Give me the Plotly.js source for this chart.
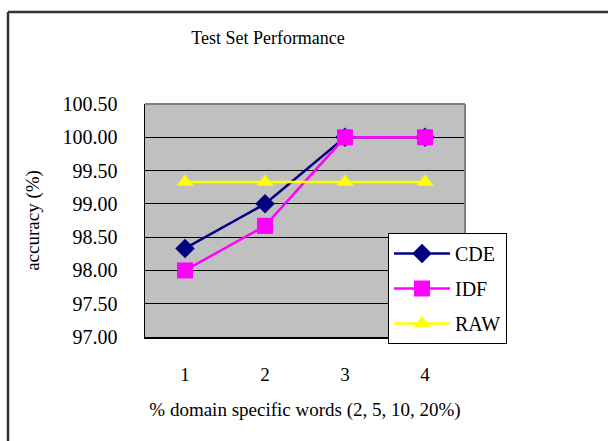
<!DOCTYPE html>
<html>
<head>
<meta charset="utf-8">
<script src="https://cdn.plot.ly/plotly-3.0.1.min.js"></script>
<style>html,body{margin:0;padding:0;background:#fff;}#chart{width:608px;height:441px;}</style>
</head>
<body>
<div id="chart"></div>
<script>
var categories = [1, 2, 3, 4];
var cde = [98.33, 99.00, 100.00, 100.00];
var idf = [98.00, 98.67, 100.00, 100.00];
var raw = [99.33, 99.33, 99.33, 99.33];
var yTicks = [97.0, 97.5, 98.0, 98.5, 99.0, 99.5, 100.0, 100.5];

var fontFam = '"Liberation Serif", "DejaVu Serif", serif';

var traces = [
  {x: categories, y: cde, name: 'CDE', type: 'scatter', mode: 'lines+markers', legendgroup: 'a',
   line: {color: '#000080', width: 2.5}, marker: {symbol: 'diamond', size: 15, color: '#000080'}},
  {x: categories, y: idf, name: 'IDF', type: 'scatter', mode: 'lines+markers', legendgroup: 'b',
   line: {color: '#FF00FF', width: 2.5}, marker: {symbol: 'square', size: 16, color: '#FF00FF'}},
  {x: categories, y: raw, name: 'RAW', type: 'scatter', mode: 'lines+markers', legendgroup: 'c',
   line: {color: '#FFFF00', width: 2.5}, marker: {symbol: 'triangle-up', size: 15, color: '#FFFF00'}}
];

var layout = {
  width: 608, height: 441,
  margin: {l: 145, r: 143, t: 104, b: 104, pad: 0},
  paper_bgcolor: '#FFFFFF',
  plot_bgcolor: '#C0C0C0',
  font: {family: fontFam, color: '#000000', size: 18},
  title: {text: 'Test Set Performance', x: 268/608, xref: 'container', xanchor: 'center',
          y: 1 - 38/441, yref: 'container', yanchor: 'middle',
          font: {family: fontFam, size: 18, color: '#000'}},
  xaxis: {
    range: [0.5, 4.5], tickvals: categories, ticktext: categories.map(String),
    showgrid: false, zeroline: false, showline: true, linecolor: '#000', linewidth: 1.5,
    ticks: '', ticklabelstandoff: 20,
    tickfont: {family: fontFam, size: 19},
    title: {text: '% domain specific words (2, 5, 10, 20%)', standoff: 18,
            font: {family: fontFam, size: 19}},
    mirror: false, fixedrange: true
  },
  yaxis: {
    range: [97, 100.5], tickvals: yTicks, tickformat: '.2f',
    showgrid: true, gridcolor: '#000000', gridwidth: 1,
    zeroline: false, showline: true, linecolor: '#000', linewidth: 1.5,
    ticks: '', ticklabelstandoff: 22,
    tickfont: {family: fontFam, size: 20},
    title: {text: 'accuracy (%)', standoff: 18, font: {family: fontFam, size: 19}},
    fixedrange: true
  },
  legend: {
    x: (388-145)/320, xanchor: 'left', y: (337-233)/233, yanchor: 'top',
    bgcolor: '#FFFFFF', bordercolor: '#000000', borderwidth: 1,
    font: {family: fontFam, size: 20}, itemwidth: 56,
    tracegroupgap: 6, traceorder: 'grouped'
  },
  showlegend: true,
  shapes: [
    {type: 'line', xref: 'paper', yref: 'paper', x0: 1, x1: 1, y0: 0, y1: 1,
     line: {color: '#808080', width: 2}},
    {type: 'line', xref: 'paper', yref: 'paper', x0: 0, x1: 1, y0: 1, y1: 1,
     line: {color: '#808080', width: 2}},
    {type: 'line', xref: 'paper', yref: 'paper', x0: (8-145)/320, x1: (8-145)/320, y0: -1, y1: (337-12)/233,
     line: {color: '#333333', width: 2.5}},
    {type: 'line', xref: 'paper', yref: 'paper', x0: (8-145)/320, x1: 2, y0: (337-12)/233, y1: (337-12)/233,
     line: {color: '#333333', width: 2.5}}
  ]
};

Plotly.newPlot('chart', traces, layout, {displayModeBar: false, staticPlot: true});
</script>
</body>
</html>
